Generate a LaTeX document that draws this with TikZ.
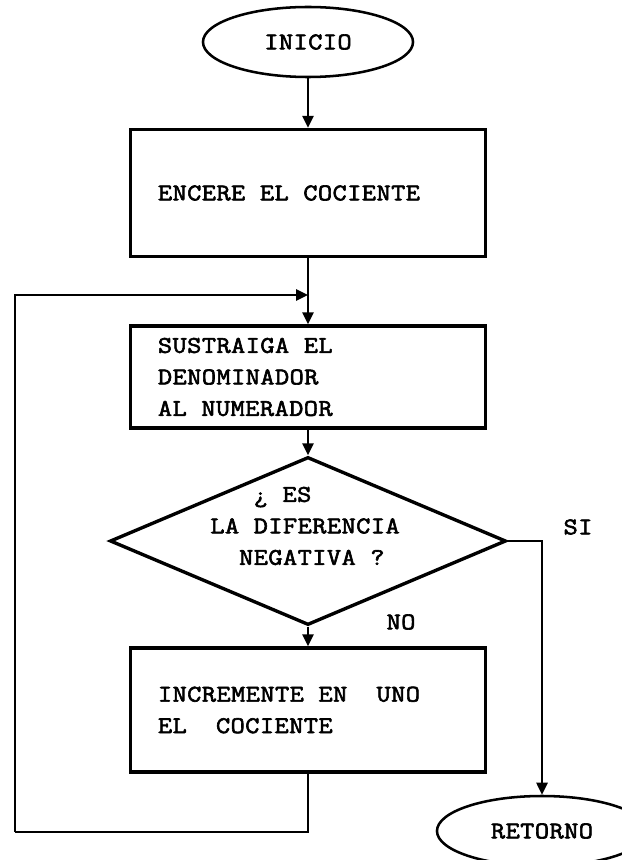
\documentclass[tikz,border=0pt]{standalone}
\usepackage{fontspec}
\usepackage{tikz}
\usetikzlibrary{arrows.meta, positioning, shapes.geometric}
\newfontfamily\typewriter{Latin Modern Mono}[FakeStretch=1.15, FakeBold=2.5, LetterSpace=2]
\definecolor{ink}{RGB}{0,0,0}

\begin{document}
\begin{tikzpicture}[
  x=0.025cm, y=-0.025cm,
  font=\typewriter\fontsize{17}{22.4}\selectfont,
  terminal/.style={
    draw=ink, ellipse, line width=1.8pt,
    minimum width=5.25cm, minimum height=1.75cm, inner sep=0pt
  },
  process/.style={
    draw=ink, line width=2.4pt, minimum width=8.875cm,
    text width=7.5cm, align=flush left, inner xsep=0.68cm, inner ysep=0pt
  },
  decision/.style={
    draw=ink, diamond, line width=2.4pt, aspect=2.36,
    minimum width=9.9cm, minimum height=4.2cm, inner sep=0pt
  },
  flow/.style={draw=ink, line width=1.4pt},
  arrow/.style={flow, -{Triangle[length=3mm, width=2.8mm]}}
]
  \useasboundingbox (0,0) rectangle (622,860);

  \node[terminal] (inicio) at (308,42) {INICIO};
  \node[process, minimum height=3.175cm] (encere) at (308,193) {ENCERE EL COCIENTE};
  \node[process, minimum height=2.55cm] (sustraiga) at (308,377) {SUSTRAIGA EL\\DENOMINADOR\\AL NUMERADOR};
  \node[decision] (pregunta) at (308,541) {};
  \node[align=left, inner sep=0pt] (ptext) at (305,526)
    {\phantom{LLL}¿ ES\\LA DIFERENCIA\\\phantom{LA}NEGATIVA ?};
  \node[process, minimum height=3.1cm] (incremente) at (308,710) {INCREMENTE EN\ \ UNO\\EL\ \ COCIENTE};
  \node[terminal] (retorno) at (542,831) {RETORNO};

  \node (si) at (578,527) {SI};
  \node (no) at (401,622) {NO};

  \coordinate (union) at (308,295);
  \coordinate (abajo) at (15,832);

  \draw[arrow] (inicio.south) -- (encere.north);
  \draw[flow] (encere.south) -- (union);
  \draw[arrow] (union) -- (sustraiga.north);
  \draw[arrow] (sustraiga.south) -- (pregunta.north);
  \draw[arrow] (pregunta.south) -- (incremente.north);
  \draw[arrow] (pregunta.east) -| (retorno.north);

  % lazo de regreso
  \draw[flow] (incremente.south) |- (abajo);
  \draw[arrow] (abajo) |- (union);
\end{tikzpicture}
\end{document}
